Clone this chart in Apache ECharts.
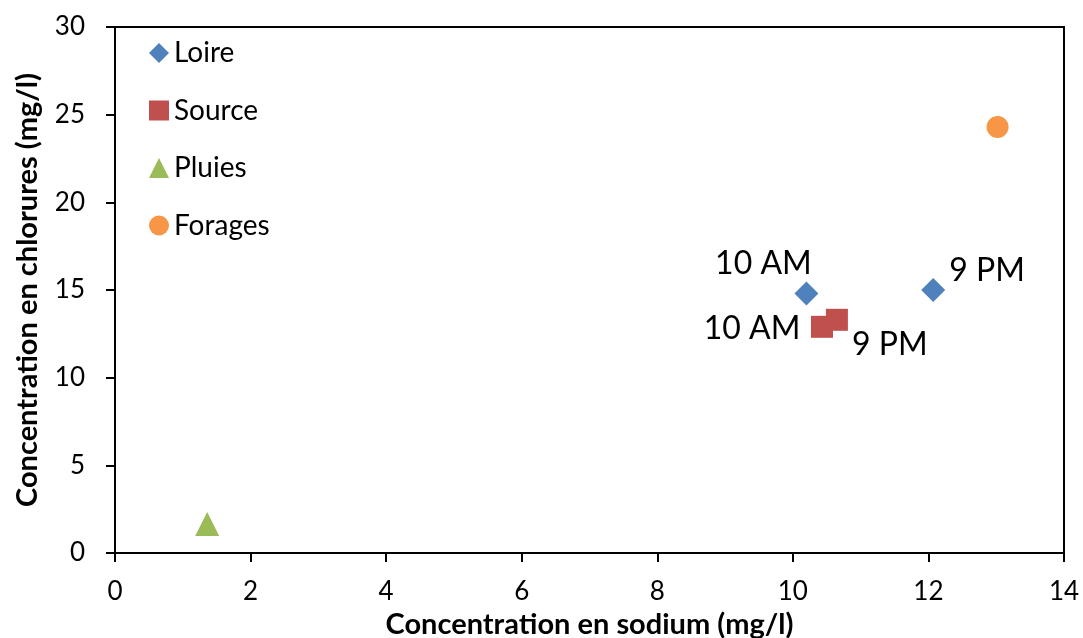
<!DOCTYPE html>
<html>
<head>
<meta charset="utf-8">
<script src="https://cdn.jsdelivr.net/npm/echarts@6/dist/echarts.min.js"></script>
<style>
  html, body { margin: 0; padding: 0; background: #fff; }
  #chart { width: 1083px; height: 638px; }
</style>
</head>
<body>
<div id="chart"></div>
<script>
// data
const seriesNames = ['Loire', 'Source', 'Pluies', 'Forages']
const loireX = [10.2, 12.07]
const loireY = [14.8, 15.0]
const loireLabels = ['10 AM', '9 PM']
const sourceX = [10.43, 10.65]
const sourceY = [12.9, 13.3]
const sourceLabels = ['10 AM', '9 PM']
const pluiesX = [1.36]
const pluiesY = [1.65]
const foragesX = [13.02]
const foragesY = [24.3]

const font = 'Lato, "Open Sans", sans-serif'

const toPoints = (xs, ys) => xs.map((x, i) => [x, ys[i]])

const chart = echarts.init(document.getElementById('chart'))

const labelStyle = (offset) => ({
  show: true,
  position: 'inside',
  offset: offset,
  formatter: '{b}',
  color: '#000',
  fontSize: 32,
  fontFamily: font
})

const loireData = toPoints(loireX, loireY).map((p, i) => ({
  value: p,
  name: loireLabels[i],
  label: labelStyle(i === 0 ? [-43, -30] : [54, -19])
}))
const sourceData = toPoints(sourceX, sourceY).map((p, i) => ({
  value: p,
  name: sourceLabels[i],
  label: labelStyle(i === 0 ? [-70, 2] : [53, 25])
}))

chart.setOption({
  animation: false,
  legend: {
    orient: 'vertical',
    left: 144,
    top: 34,
    itemWidth: 20,
    itemHeight: 20,
    itemGap: 29.5,
    data: seriesNames,
    textStyle: { fontSize: 28, fontFamily: font, color: '#000' }
  },
  grid: {
    left: 115, top: 27, right: 19, bottom: 85,
    outerBoundsMode: 'none',
    show: true, borderColor: '#000', borderWidth: 2
  },
  xAxis: {
    type: 'value',
    min: 0, max: 14, interval: 2,
    name: 'Concentration en sodium (mg/l)',
    nameLocation: 'middle',
    nameGap: 55,
    nameTextStyle: { fontSize: 29, fontWeight: 'bold', fontFamily: font, color: '#000' },
    axisLine: { lineStyle: { color: '#000', width: 2 } },
    axisTick: { show: true, length: 9, lineStyle: { color: '#000', width: 2 } },
    axisLabel: { fontSize: 26, fontFamily: font, color: '#000', margin: 26 },
    splitLine: { show: false }
  },
  yAxis: {
    type: 'value',
    min: 0, max: 30, interval: 5,
    name: 'Concentration en chlorures (mg/l)',
    nameLocation: 'middle',
    nameGap: 73,
    nameTextStyle: { fontSize: 29, fontWeight: 'bold', fontFamily: font, color: '#000' },
    axisLine: { lineStyle: { color: '#000', width: 2 } },
    axisTick: { show: true, length: 9, lineStyle: { color: '#000', width: 2 } },
    axisLabel: { fontSize: 26, fontFamily: font, color: '#000', margin: 30 },
    splitLine: { show: false }
  },
  series: [
    {
      name: 'Loire', type: 'scatter', symbol: 'diamond', symbolSize: 24,
      itemStyle: { color: '#4F81BD', opacity: 1 },
      data: loireData
    },
    {
      name: 'Source', type: 'scatter', symbol: 'rect', symbolSize: 22,
      itemStyle: { color: '#C0504D', opacity: 1 },
      data: sourceData
    },
    {
      name: 'Pluies', type: 'scatter', symbol: 'triangle', symbolSize: 24,
      itemStyle: { color: '#9BBB59', opacity: 1 },
      data: toPoints(pluiesX, pluiesY)
    },
    {
      name: 'Forages', type: 'scatter', symbol: 'circle', symbolSize: 22,
      itemStyle: { color: '#F79646', opacity: 1 },
      data: toPoints(foragesX, foragesY)
    }
  ]
})
</script>
</body>
</html>
